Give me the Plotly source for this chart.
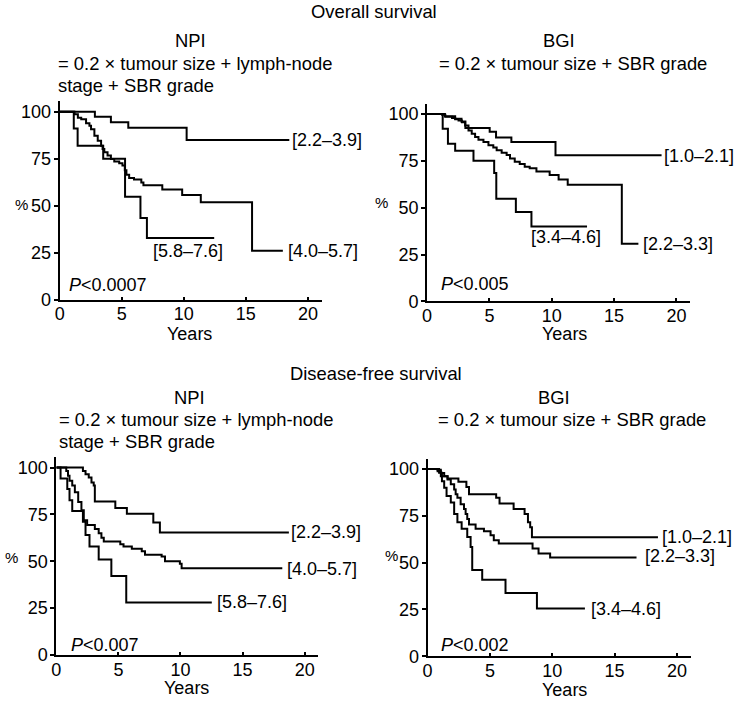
import plotly.graph_objects as go

W, H = 736, 707
FONT = "Liberation Sans, Arial, Helvetica, sans-serif"

# ---------------- data (times in years, survival in %) ----------------
# Overall survival, NPI
os_npi_a_t = [2.84, 4.13, 5.53, 10.23]
os_npi_a_s = [97.3, 94.4, 91.5, 84.9]
os_npi_a_end = 18.5
os_npi_b_t = [1.20, 1.47, 1.74, 2.13, 2.40, 2.53, 2.80, 3.07, 3.34, 3.46, 3.60, 3.86, 4.13, 4.40,
              4.80, 5.06, 5.25, 5.38, 5.60, 5.99, 6.58, 6.75, 8.27, 9.87, 11.37, 15.5]
os_npi_b_s = [98.6, 96.8, 96.0, 93.9, 92.5, 90.7, 87.2, 84.6, 81.9, 80.2, 78.4, 76.7, 74.9, 73.5,
              72.6, 71.4, 68.8, 66.5, 64.7, 63.9, 62.3, 60.9, 58.6, 55.7, 51.8, 26.0]
os_npi_b_end = 17.98
os_npi_c_t = [1.14, 1.45, 3.51, 5.27, 6.51, 7.03]
os_npi_c_s = [91.0, 81.9, 75.0, 54.7, 43.5, 32.8]
os_npi_c_end = 12.45

# Overall survival, BGI
os_bgi_a_t = [1.43, 2.25, 2.76, 3.07, 5.02, 5.53, 6.76, 10.30]
os_bgi_a_s = [98.8, 97.5, 96.0, 92.6, 90.5, 87.5, 85.1, 78.0]
os_bgi_a_end = 18.81
os_bgi_b_t = [1.20, 1.46, 2.00, 2.25, 2.52, 2.79, 3.05, 3.32, 3.58, 3.85, 4.12, 4.52, 4.92, 5.31,
              5.58, 5.98, 6.38, 6.65, 7.03, 7.43, 7.83, 8.23, 8.77, 9.83, 10.55, 11.28, 15.62]
os_bgi_b_s = [99.6, 98.6, 97.9, 97.2, 96.5, 95.6, 93.9, 91.2, 89.5, 87.7, 86.3, 85.1, 83.3, 82.1,
              80.7, 79.3, 78.1, 76.3, 74.6, 73.3, 71.9, 71.1, 69.3, 67.5, 65.0, 62.2, 30.7]
os_bgi_b_end = 16.95
os_bgi_c_t = [1.25, 1.67, 2.25, 3.72, 5.38, 5.55, 7.12, 8.37]
os_bgi_c_s = [92.1, 84.2, 80.4, 75.1, 68.6, 54.8, 47.7, 40.0]
os_bgi_c_end = 12.83

# Disease-free survival, NPI
dfs_npi_a_t = [2.14, 2.35, 2.61, 2.83, 3.01, 3.10, 4.75, 5.68, 7.81, 8.34]
dfs_npi_a_s = [98.2, 96.5, 94.7, 92.1, 90.4, 81.9, 78.4, 75.4, 70.7, 65.4]
dfs_npi_a_end = 18.73
dfs_npi_b_t = [0.80, 0.94, 1.06, 1.28, 1.49, 1.76, 2.02, 2.21, 2.48, 3.10, 3.41, 3.63, 3.82,
               5.15, 5.41, 6.08, 6.88, 7.14, 8.48, 8.75, 9.95, 10.09]
dfs_npi_b_s = [98.2, 95.6, 93.0, 90.4, 86.8, 81.6, 77.2, 71.9, 69.3, 67.2, 64.9, 62.6, 60.5,
               59.1, 57.9, 56.7, 55.3, 53.5, 52.5, 50.0, 48.6, 46.2]
dfs_npi_b_end = 18.2
dfs_npi_c_t = [0.34, 0.88, 1.06, 1.28, 2.14, 2.35, 2.67, 3.41, 4.43, 5.63]
dfs_npi_c_s = [94.2, 88.6, 82.5, 76.8, 71.1, 64.0, 57.9, 50.9, 42.1, 28.0]
dfs_npi_c_end = 12.52

# Disease-free survival, BGI
dfs_bgi_a_t = [0.80, 1.06, 1.60, 2.47, 3.11, 3.32, 5.50, 5.77, 6.90, 7.78, 8.05, 8.23, 8.37]
dfs_bgi_a_s = [98.8, 96.1, 94.9, 93.2, 90.4, 86.5, 84.7, 81.6, 78.6, 76.0, 71.6, 68.9, 63.6]
dfs_bgi_a_end = 18.48
dfs_bgi_b_t = [0.80, 1.06, 1.33, 1.60, 1.86, 2.13, 2.25, 2.39, 2.65, 2.92, 3.05, 3.18, 3.32, 3.85,
               4.52, 5.05, 5.31, 5.71, 8.42, 8.90, 9.83]
dfs_bgi_b_s = [99.6, 97.9, 96.1, 94.4, 91.8, 89.1, 86.5, 84.7, 81.2, 78.6, 76.0, 73.3, 70.4, 68.1,
               66.8, 64.6, 61.9, 60.2, 57.5, 54.9, 52.7]
dfs_bgi_b_end = 16.76
dfs_bgi_c_t = [0.92, 1.15, 1.33, 1.52, 1.86, 2.13, 2.39, 2.73, 3.18, 3.45, 3.58, 4.38, 6.25, 8.77]
dfs_bgi_c_s = [98.0, 93.5, 90.0, 85.6, 82.1, 76.0, 71.6, 68.1, 63.7, 58.4, 46.1, 40.8, 33.8, 25.5]
dfs_bgi_c_end = 12.62

labels_npi = ["[2.2–3.9]", "[4.0–5.7]", "[5.8–7.6]"]
labels_bgi = ["[1.0–2.1]", "[2.2–3.3]", "[3.4–4.6]"]
p_values = ["<i>P</i>&lt;0.0007", "<i>P</i>&lt;0.005", "<i>P</i>&lt;0.007", "<i>P</i>&lt;0.002"]
y_ticks = [0, 25, 50, 75, 100]
x_ticks = [0, 5, 10, 15, 20]

curves = [
    [(os_npi_a_t, os_npi_a_s, os_npi_a_end), (os_npi_b_t, os_npi_b_s, os_npi_b_end), (os_npi_c_t, os_npi_c_s, os_npi_c_end)],
    [(os_bgi_a_t, os_bgi_a_s, os_bgi_a_end), (os_bgi_b_t, os_bgi_b_s, os_bgi_b_end), (os_bgi_c_t, os_bgi_c_s, os_bgi_c_end)],
    [(dfs_npi_a_t, dfs_npi_a_s, dfs_npi_a_end), (dfs_npi_b_t, dfs_npi_b_s, dfs_npi_b_end), (dfs_npi_c_t, dfs_npi_c_s, dfs_npi_c_end)],
    [(dfs_bgi_a_t, dfs_bgi_a_s, dfs_bgi_a_end), (dfs_bgi_b_t, dfs_bgi_b_s, dfs_bgi_b_end), (dfs_bgi_c_t, dfs_bgi_c_s, dfs_bgi_c_end)],
]
panel_labels = [labels_npi, labels_bgi, labels_npi, labels_bgi]

# ---------------- layout (pixel geometry, page coordinates) ----------------
XMAX, YMAX = 21.1, 105.5
# (x of origin, px per year, y of origin, px per %)
panels = [(55.0, 12.5, 304.0, 1.907),
          (425.0, 12.55, 305.7, 1.90),
          (51.7, 12.5, 664.3, 1.90),
          (425.5, 12.55, 665.7, 1.90)]
label_pos = [
    [(18.66, 85.0), (18.32, 26.0), (7.46, 25.7)],
    [(18.9, 77.6), (17.27, 30.6), (8.23, 34.6)],
    [(18.85, 65.4), (18.53, 45.6), (12.85, 28.3)],
    [(18.75, 63.8), (17.35, 53.6), (13.01, 25.3)],
]
p_pos = [(0.66, 7.7), (1.06, 9.2), (1.06, 5.2), (0.98, 6.2)]
pct_pos = [(17, 207), (379, 205), (7, 566), (389, 563)]
years_pos = [(186, 338.5), (563, 339), (183, 698), (563, 700)]

fig = go.Figure()
layout = dict(width=W, height=H, margin=dict(l=0, r=0, t=0, b=0),
              paper_bgcolor="white", plot_bgcolor="white", showlegend=False,
              font=dict(family=FONT, size=18, color="black"))
ann = []


def px(x):
    return x / W


def py(y):
    return 1 - y / H


for i, (x0, sx, y0, sy) in enumerate(panels):
    n = i + 1
    xa = "xaxis" if n == 1 else f"xaxis{n}"
    ya = "yaxis" if n == 1 else f"yaxis{n}"
    xr = "x" if n == 1 else f"x{n}"
    yr = "y" if n == 1 else f"y{n}"
    layout[xa] = dict(domain=[px(x0), px(x0 + XMAX * sx)], range=[0, XMAX], anchor=yr,
                      showline=True, linewidth=2, linecolor="black", ticks="inside",
                      ticklen=3, tickwidth=1.5, tickcolor="black", tickvals=x_ticks,
                      showgrid=False, zeroline=False, tickfont=dict(size=18, family=FONT),
                      ticklabelstandoff=-3, fixedrange=True)
    layout[ya] = dict(domain=[py(y0), py(y0 - YMAX * sy)], range=[0, YMAX], anchor=xr,
                      showline=True, linewidth=2, linecolor="black", ticks="outside",
                      ticklen=4, tickwidth=2, tickcolor="black", tickvals=y_ticks,
                      showgrid=False, zeroline=False, tickfont=dict(size=18, family=FONT),
                      ticklabelstandoff=-1, fixedrange=True)
    for (t, s, end) in curves[i]:
        xs = [0] + list(t) + [end]
        ys = [100] + list(s) + [s[-1]]
        fig.add_trace(go.Scatter(x=xs, y=ys, mode="lines", line=dict(color="black", width=2, shape="hv"),
                                 xaxis=xr, yaxis=yr, hoverinfo="skip", cliponaxis=False))
    for lab, (lx, ly) in zip(panel_labels[i], label_pos[i]):
        ann.append(dict(text=lab, x=lx, y=ly, xref=xr, yref=yr, xanchor="left", yanchor="middle",
                        showarrow=False, font=dict(size=18), borderpad=0))
    ann.append(dict(text=p_values[i], x=p_pos[i][0], y=p_pos[i][1], xref=xr, yref=yr,
                    xanchor="left", yanchor="middle", showarrow=False, font=dict(size=18), borderpad=0))
    ann.append(dict(text="%", x=px(pct_pos[i][0]), y=py(pct_pos[i][1]), xref="paper", yref="paper",
                    xanchor="center", yanchor="middle", showarrow=False, font=dict(size=15), borderpad=0))
    ann.append(dict(text="Years", x=px(years_pos[i][0]), y=py(years_pos[i][1]), xref="paper", yref="paper",
                    xanchor="center", yanchor="middle", showarrow=False, font=dict(size=18), borderpad=0))

# header texts (page pixel positions)
headers = [
    ("Overall survival", 372, 12, "center"),
    ("NPI", 187, 41, "center"),
    ("= 0.2 × tumour size + lymph-node", 52.5, 64, "left"),
    ("stage + SBR grade", 52.5, 87, "left"),
    ("BGI", 558, 41, "center"),
    ("= 0.2 × tumour size + SBR grade", 436, 64, "left"),
    ("Disease-free survival", 374, 379, "center"),
    ("NPI", 186, 403, "center"),
    ("= 0.2 × tumour size + lymph-node", 53, 426, "left"),
    ("stage + SBR grade", 53, 448, "left"),
    ("BGI", 553, 403, "center"),
    ("= 0.2 × tumour size + SBR grade", 435, 426, "left"),
]
for text, hx, hy, anc in headers:
    ann.append(dict(text=text, x=px(hx), y=py(hy), xref="paper", yref="paper",
                    xanchor=anc, yanchor="middle", showarrow=False, font=dict(size=18.4), borderpad=0))

layout["annotations"] = ann
fig.update_layout(**layout)
# remove the default 8px page margin so the figure fills the 736x707 window exactly
fig.write_html("out.html", config={"displayModeBar": False},
               post_script="document.body.style.margin='0px';")
